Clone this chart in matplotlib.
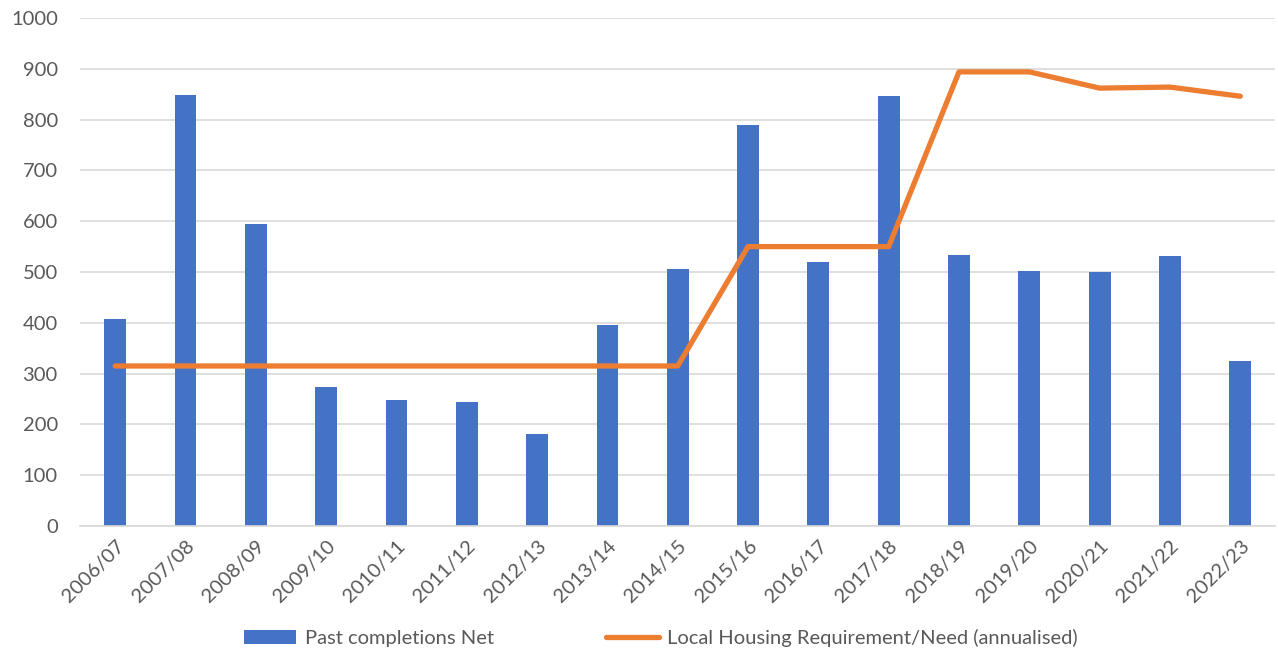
import numpy as np
import matplotlib.pyplot as plt

years = ["2006/07", "2007/08", "2008/09", "2009/10", "2010/11", "2011/12", "2012/13",
         "2013/14", "2014/15", "2015/16", "2016/17", "2017/18", "2018/19", "2019/20",
         "2020/21", "2021/22", "2022/23"]
completions = [408, 848, 594, 274, 248, 244, 181, 396, 506, 789, 520, 846, 533, 502, 500, 531, 325]
requirement = [315, 315, 315, 315, 315, 315, 315, 315, 315, 550, 550, 550, 894, 894, 862, 864, 846]

plt.rcParams['font.family'] = ['Lato', 'DejaVu Sans']
text_col = "#595959"

fig = plt.figure(figsize=(12.78, 6.62), dpi=100)
ax = fig.add_axes([0.0626, 0.2054, 0.9354, 0.7674])

x = np.arange(len(years))
bars = ax.bar(x, completions, width=0.31, color="#4472C4", label="Past completions Net", zorder=2)
line, = ax.plot(x, requirement, color="#ED7D31", lw=3.8, solid_capstyle="round",
                label="Local Housing Requirement/Need (annualised)", zorder=3)

ax.set_xlim(-0.5, len(years) - 0.5)
ax.set_ylim(0, 1000)
ax.set_yticks(range(0, 1001, 100))
ax.grid(axis="y", color="#D9D9D9", lw=1.2, zorder=0)
for s in ["top", "right", "left"]:
    ax.spines[s].set_visible(False)
ax.spines["bottom"].set_color("#D9D9D9")
ax.spines["bottom"].set_linewidth(1.2)
ax.tick_params(length=0, labelsize=14.5, colors=text_col)
ax.tick_params(axis="x", pad=8)
ax.tick_params(axis="y", pad=16)
ax.set_xticks(x)
ax.set_xticklabels(years, rotation=45, ha="right", rotation_mode="anchor")

leg = fig.legend([bars, line], [bars.get_label(), line.get_label()],
                 loc="lower center", bbox_to_anchor=(0.517, -0.005), ncol=2, frameon=False,
                 fontsize=14.5, columnspacing=5.6, handlelength=2.6, handletextpad=0.4)
for t in leg.get_texts():
    t.set_color(text_col)

fig.savefig("out.png", dpi=100)
